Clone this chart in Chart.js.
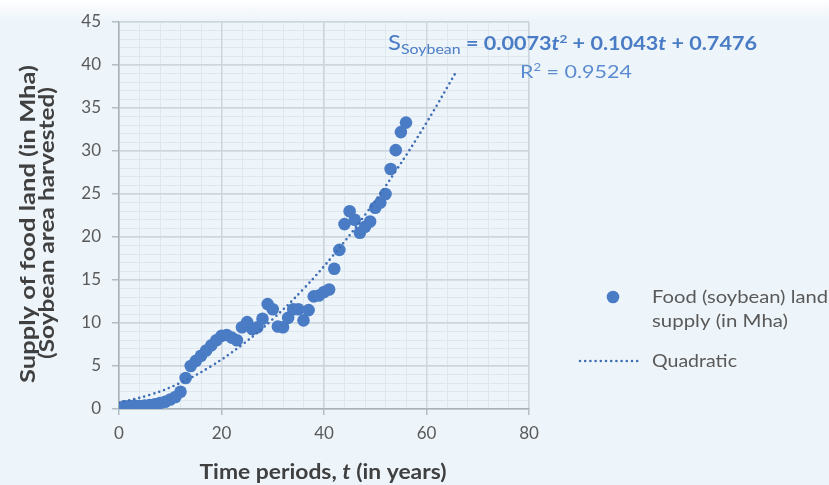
<!DOCTYPE html>
<html>
<head>
<meta charset="utf-8">
<script src="https://cdn.jsdelivr.net/npm/chart.js@4.4.0/dist/chart.umd.min.js"></script>
<style>
    html, body { margin: 0; padding: 0; }
    body {
        width: 829px;
        height: 485px;
        overflow: hidden;
        background: linear-gradient(#ffffff 0px, #f6f9fc 10px, #eef5fa 20px, #eef5fa 100%);
    }
    canvas { display: block; }
</style>
</head>
<body>
<canvas id="soyChart" width="829" height="485"></canvas>
<script>
// Soybean area harvested (Mha) per time period t (years)
const years = [1, 2, 3, 4, 5, 6, 7, 8, 9, 10, 11, 12, 13, 14, 15, 16, 17, 18, 19, 20,
    21, 22, 23, 24, 25, 26, 27, 28, 29, 30, 31, 32, 33, 34, 35, 36, 37, 38, 39, 40,
    41, 42, 43, 44, 45, 46, 47, 48, 49, 50, 51, 52, 53, 54, 55, 56];
const supply = [0.3, 0.35, 0.4, 0.35, 0.4, 0.45, 0.55, 0.7, 0.85, 1.1, 1.4, 2.0, 3.6, 5.0, 5.6, 6.2, 6.8, 7.4, 8.0, 8.5,
    8.6, 8.3, 8.0, 9.5, 10.1, 9.3, 9.5, 10.5, 12.2, 11.6, 9.6, 9.5, 10.6, 11.6, 11.6, 10.3, 11.5, 13.1, 13.2, 13.6,
    13.9, 16.3, 18.5, 21.5, 23.0, 22.0, 20.5, 21.2, 21.8, 23.4, 24.0, 25.0, 27.9, 30.1, 32.2, 33.3];

// dotted quadratic trend
const trendYears = [0, 6, 12, 18, 24, 30, 36, 42, 48, 54, 60, 66];
const trendSupply = [0.75, 1.64, 3.05, 4.99, 7.46, 10.45, 13.96, 18.01, 22.57, 27.67, 33.29, 39.43];

const xTickValues = [0, 20, 40, 60, 80];
const yTickValues = [0, 5, 10, 15, 20, 25, 30, 35, 40, 45];
const xMinorValues = [0, 4, 8, 12, 16, 20, 24, 28, 32, 36, 40, 44, 48, 52, 56, 60, 64, 68, 72, 76, 80];
const yMinorValues = [];
for (let v = 0; v <= 45; v++) yMinorValues.push(v);

const BLUE = '#4a7cc5';
const DOT_BLUE = '#3e6db3';
const FONT = 'Lato';

// draws a run of differently styled text pieces, squeezed/stretched to a target width
function drawRuns(ctx, runs, x, baseline, width, align) {
    let total = 0;
    runs.forEach(r => {
        ctx.font = r.font;
        r.w = ctx.measureText(r.text).width;
        total += r.w;
    });
    const k = width ? width / total : 1;
    const start = align === 'center' ? x - (total * k) / 2 : x;
    ctx.save();
    ctx.translate(start, baseline);
    ctx.scale(k, 1);
    let cx = 0;
    runs.forEach(r => {
        ctx.font = r.font;
        ctx.fillStyle = r.color;
        ctx.textAlign = 'left';
        ctx.textBaseline = 'alphabetic';
        ctx.fillText(r.text, cx, r.dy || 0);
        cx += r.w;
    });
    ctx.restore();
}

const overlay = {
    id: 'overlay',
    afterDraw(chart) {
        const ctx = chart.ctx;
        const grey = '#404040';
        const legendGrey = '#595959';

        // y axis title (two lines, rotated)
        ctx.save();
        ctx.translate(35, 224);
        ctx.rotate(-Math.PI / 2);
        drawRuns(ctx, [{ text: 'Supply of food land (in Mha)', font: `bold 20px ${FONT}`, color: grey }], 0, 0, 318, 'center');
        drawRuns(ctx, [{ text: '(Soybean area harvested)', font: `bold 20px ${FONT}`, color: grey }], 1, 19, 272, 'center');
        ctx.restore();

        // x axis title with italic t
        drawRuns(ctx, [
            { text: 'Time periods, ', font: `bold 20px ${FONT}`, color: grey },
            { text: 't', font: `italic bold 20px ${FONT}`, color: grey },
            { text: ' (in years)', font: `bold 20px ${FONT}`, color: grey }
        ], 323, 479, 247, 'center');

        // trend equation
        drawRuns(ctx, [
            { text: 'S', font: `21px ${FONT}`, color: BLUE },
            { text: 'Soybean', font: `14px ${FONT}`, color: BLUE, dy: 4 },
            { text: ' = 0.0073', font: `bold 19px ${FONT}`, color: BLUE },
            { text: 't', font: `italic bold 19px ${FONT}`, color: BLUE },
            { text: '2', font: `bold 12px ${FONT}`, color: BLUE, dy: -7 },
            { text: ' + 0.1043', font: `bold 19px ${FONT}`, color: BLUE },
            { text: 't', font: `italic bold 19px ${FONT}`, color: BLUE },
            { text: ' + 0.7476', font: `bold 19px ${FONT}`, color: BLUE }
        ], 388, 50, 369, 'left');
        drawRuns(ctx, [
            { text: 'R', font: `18px ${FONT}`, color: '#5b8bd0' },
            { text: '2', font: `11px ${FONT}`, color: '#5b8bd0', dy: -7 },
            { text: ' = 0.9524', font: `18px ${FONT}`, color: '#5b8bd0' }
        ], 520, 78, 112, 'left');

        // legend
        ctx.save();
        ctx.fillStyle = BLUE;
        ctx.beginPath();
        ctx.arc(613, 297, 6.3, 0, Math.PI * 2);
        ctx.fill();
        ctx.strokeStyle = DOT_BLUE;
        ctx.lineWidth = 2.6;
        ctx.lineCap = 'round';
        ctx.setLineDash([0, 5.2]);
        ctx.beginPath();
        ctx.moveTo(580, 361);
        ctx.lineTo(640, 361);
        ctx.stroke();
        ctx.restore();
        drawRuns(ctx, [{ text: 'Food (soybean) land', font: `18px ${FONT}`, color: legendGrey }], 652, 303, 176, 'left');
        drawRuns(ctx, [{ text: 'supply (in Mha)', font: `18px ${FONT}`, color: legendGrey }], 652, 327, 136, 'left');
        drawRuns(ctx, [{ text: 'Quadratic', font: `18px ${FONT}`, color: legendGrey }], 652, 367, 85, 'left');
    }
};

const ctx = document.getElementById('soyChart').getContext('2d');
new Chart(ctx, {
    data: {
        datasets: [
            {
                type: 'scatter',
                label: 'Food (soybean) land supply (in Mha)',
                data: years.map((t, i) => ({ x: t, y: supply[i] })),
                backgroundColor: BLUE,
                borderWidth: 0,
                pointRadius: 6.3,
                order: 2
            },
            {
                type: 'line',
                label: 'Quadratic',
                data: trendYears.map((t, i) => ({ x: t, y: trendSupply[i] })),
                borderColor: DOT_BLUE,
                borderWidth: 2.6,
                borderDash: [0, 5.2],
                borderCapStyle: 'round',
                tension: 0.4,
                pointRadius: 0,
                fill: false,
                order: 1
            }
        ]
    },
    options: {
        responsive: false,
        animation: false,
        layout: { padding: { top: 22, right: 300, left: 0, bottom: 0 } },
        plugins: {
            legend: { display: false },
            tooltip: { enabled: false }
        },
        scales: {
            xMinor: {
                type: 'linear',
                position: 'bottom',
                min: 0, max: 80,
                z: -1,
                afterBuildTicks: s => { s.ticks = xMinorValues.map(v => ({ value: v })); },
                afterFit: s => { s.height = 0; },
                ticks: { display: false },
                grid: { color: '#dfe7ee', drawTicks: false, lineWidth: 1 },
                border: { display: false }
            },
            yMinor: {
                type: 'linear',
                position: 'left',
                min: 0, max: 45,
                z: -1,
                afterBuildTicks: s => { s.ticks = yMinorValues.map(v => ({ value: v })); },
                afterFit: s => { s.width = 0; },
                ticks: { display: false },
                grid: { color: '#dfe7ee', drawTicks: false, lineWidth: 1 },
                border: { display: false }
            },
            x: {
                type: 'linear',
                position: 'bottom',
                min: 0, max: 80,
                afterBuildTicks: s => { s.ticks = xTickValues.map(v => ({ value: v })); },
                afterFit: s => { s.height = 76; },
                ticks: { color: '#595959', font: { family: FONT, size: 17 }, padding: 8 },
                grid: { color: '#cdd5dd', lineWidth: 1.5, tickLength: 6, tickColor: '#b4bcc4' },
                border: { color: '#a9b1b9', width: 1.5 }
            },
            y: {
                type: 'linear',
                position: 'left',
                min: 0, max: 45,
                afterBuildTicks: s => { s.ticks = yTickValues.map(v => ({ value: v })); },
                afterFit: s => { s.width = 119; },
                ticks: { color: '#595959', font: { family: FONT, size: 17 }, padding: 11 },
                grid: { color: '#cdd5dd', lineWidth: 1.5, tickLength: 7, tickColor: '#b4bcc4' },
                border: { color: '#a9b1b9', width: 1.5 }
            }
        }
    },
    plugins: [overlay]
});
</script>
</body>
</html>
